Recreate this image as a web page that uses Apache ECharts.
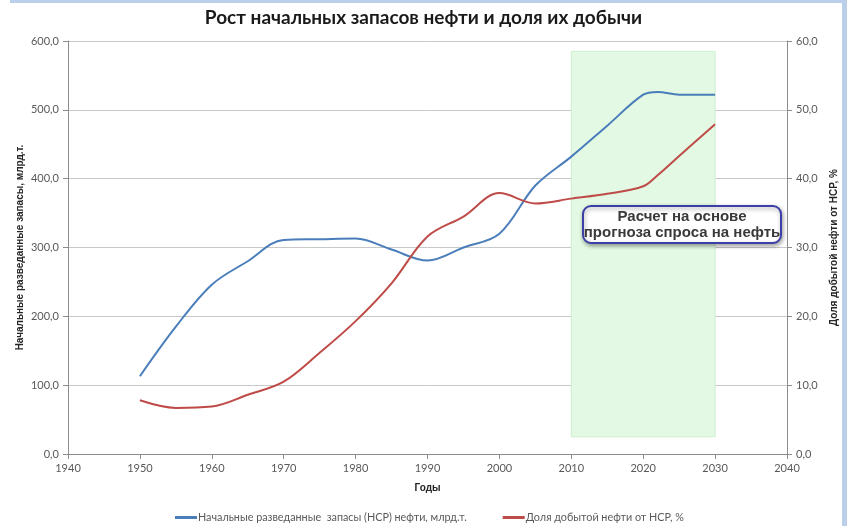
<!DOCTYPE html>
<html>
<head>
<meta charset="utf-8">
<script src="https://cdn.jsdelivr.net/npm/echarts@6/dist/echarts.min.js"></script>
<style>
  html, body { margin: 0; padding: 0; background: #ffffff; }
  #chart { width: 847px; height: 526px; }
</style>
</head>
<body>
<div id="chart"></div>
<script>
// Years of the series points
const years = [1950, 1955, 1960, 1965, 1970, 1975, 1980, 1985, 1990, 1995, 2000, 2005, 2010, 2015, 2020, 2022, 2025, 2030];
// Initial proven reserves, bn t
const reserves = [113, 185, 246, 280, 311, 312, 313, 297, 281, 300, 320, 390, 432, 477, 522, 526, 522, 522];
// Share of extracted oil, %
const extractedShare = [7.8, 6.7, 6.9, 8.6, 10.5, 14.7, 19.3, 24.8, 31.6, 34.5, 37.9, 36.4, 37.1, 37.8, 38.9, 40.5, 43.3, 47.9];

// Forecast zone: [fromYear, toYear], [lowValue, highValue] on the left axis
const forecastYears = [2010, 2030];
const forecastValues = [25, 585];

const seriesNames = ['Начальные разведанные  запасы (НСР) нефти, млрд.т.', 'Доля добытой нефти от НСР, %'];
const chartTitle = 'Рост начальных запасов нефти и доля их добычи';
const noteLines = ['Расчет на основе', 'прогноза спроса на нефть'];

const fmt = v => v.toFixed(1).replace('.', ',');
const toPairs = (xs, ys) => xs.map((x, i) => [x, ys[i]]);

const labelFont = { fontFamily: 'Lato', fontSize: 11, color: '#595959' };
const nameFont = { fontFamily: 'Liberation Sans', fontSize: 10, fontWeight: 'bold', color: '#262626' };

const chart = echarts.init(document.getElementById('chart'), null, { renderer: 'canvas' });

chart.setOption({
  animation: false,
  backgroundColor: '#ffffff',
  title: {
    text: chartTitle,
    left: 'center',
    top: 3,
    textStyle: { fontFamily: 'Lato', fontSize: 19, fontWeight: 'bold', color: '#1a1a1a' }
  },
  legend: {
    top: 507,
    left: 170,
    itemGap: 36,
    itemWidth: 22,
    itemHeight: 3,
    icon: 'rect',
    textStyle: { fontFamily: 'Lato', fontSize: 10.8, color: '#595959', padding: [0, 0, 0, -4] },
    data: seriesNames
  },
  grid: { left: 68, right: 55, top: 41, bottom: 72, containLabel: false },
  xAxis: {
    type: 'value',
    min: 1940, max: 2040, interval: 10,
    name: 'Годы',
    nameLocation: 'middle',
    nameGap: 29,
    nameTextStyle: nameFont,
    axisLine: { lineStyle: { color: '#8c8c8c' } },
    axisTick: { show: true, length: 5, lineStyle: { color: '#8c8c8c' } },
    axisLabel: Object.assign({ margin: 9, formatter: v => String(v) }, labelFont),
    splitLine: { show: false }
  },
  yAxis: [
    {
      type: 'value',
      min: 0, max: 600, interval: 100,
      name: 'Начальные разведанные запасы, млрд.т.',
      nameLocation: 'middle',
      nameRotate: 90,
      nameGap: 43,
      nameMoveOverlap: false,
      nameTextStyle: nameFont,
      axisLine: { show: true, lineStyle: { color: '#8c8c8c' } },
      axisTick: { show: true, length: 5, lineStyle: { color: '#8c8c8c' } },
      axisLabel: Object.assign({ margin: 9, formatter: fmt }, labelFont),
      splitLine: { show: true, lineStyle: { color: '#c8c8c8', width: 1 } }
    },
    {
      type: 'value',
      min: 0, max: 60, interval: 10,
      position: 'right',
      name: 'Доля добытой нефти от НСР, %',
      nameLocation: 'middle',
      nameRotate: 90,
      nameGap: 42,
      nameMoveOverlap: false,
      nameTextStyle: nameFont,
      axisLine: { show: true, lineStyle: { color: '#8c8c8c' } },
      axisTick: { show: true, length: 5, lineStyle: { color: '#8c8c8c' } },
      axisLabel: Object.assign({ margin: 9, formatter: fmt }, labelFont),
      splitLine: { show: false }
    }
  ],
  series: [
    {
      name: seriesNames[0],
      type: 'line',
      yAxisIndex: 0,
      data: toPairs(years, reserves),
      smooth: 0.35,
      symbol: 'none',
      z: 3,
      lineStyle: { color: '#4a7ebb', width: 2 },
      itemStyle: { color: '#4a7ebb' },
      markArea: {
        silent: true,
        z: 1,
        itemStyle: { color: '#e3f9e3', borderColor: '#cdeecd', borderWidth: 1 },
        data: [[
          { xAxis: forecastYears[0], yAxis: forecastValues[0] },
          { xAxis: forecastYears[1], yAxis: forecastValues[1] }
        ]]
      }
    },
    {
      name: seriesNames[1],
      type: 'line',
      yAxisIndex: 1,
      data: toPairs(years, extractedShare),
      smooth: 0.35,
      symbol: 'none',
      z: 3,
      lineStyle: { color: '#be4b48', width: 2 },
      itemStyle: { color: '#be4b48' }
    }
  ],
  graphic: [
    // light blue frame strips along the top and right edges
    { type: 'rect', z: 50, shape: { x: 10, y: 0, width: 837, height: 3 }, style: { fill: '#b9cfea' }, silent: true },
    { type: 'rect', z: 50, shape: { x: 842, y: 0, width: 5, height: 526 }, style: { fill: '#b9cfea' }, silent: true },
    // forecast note
    {
      type: 'rect',
      z: 100,
      shape: { x: 583, y: 206, width: 198, height: 37, r: 8 },
      style: {
        fill: '#ffffff', stroke: '#3b3fa6', lineWidth: 2,
        shadowBlur: 4, shadowOffsetX: 1, shadowOffsetY: 2, shadowColor: 'rgba(0,0,0,0.35)'
      }
    },
    {
      type: 'text',
      z: 101,
      x: 682,
      y: 225,
      style: {
        text: noteLines.join('\n'),
        align: 'center', verticalAlign: 'middle',
        font: 'bold 15px "Liberation Sans"',
        lineHeight: 16,
        fill: '#3a3a3a'
      }
    }
  ]
});
</script>
</body>
</html>
